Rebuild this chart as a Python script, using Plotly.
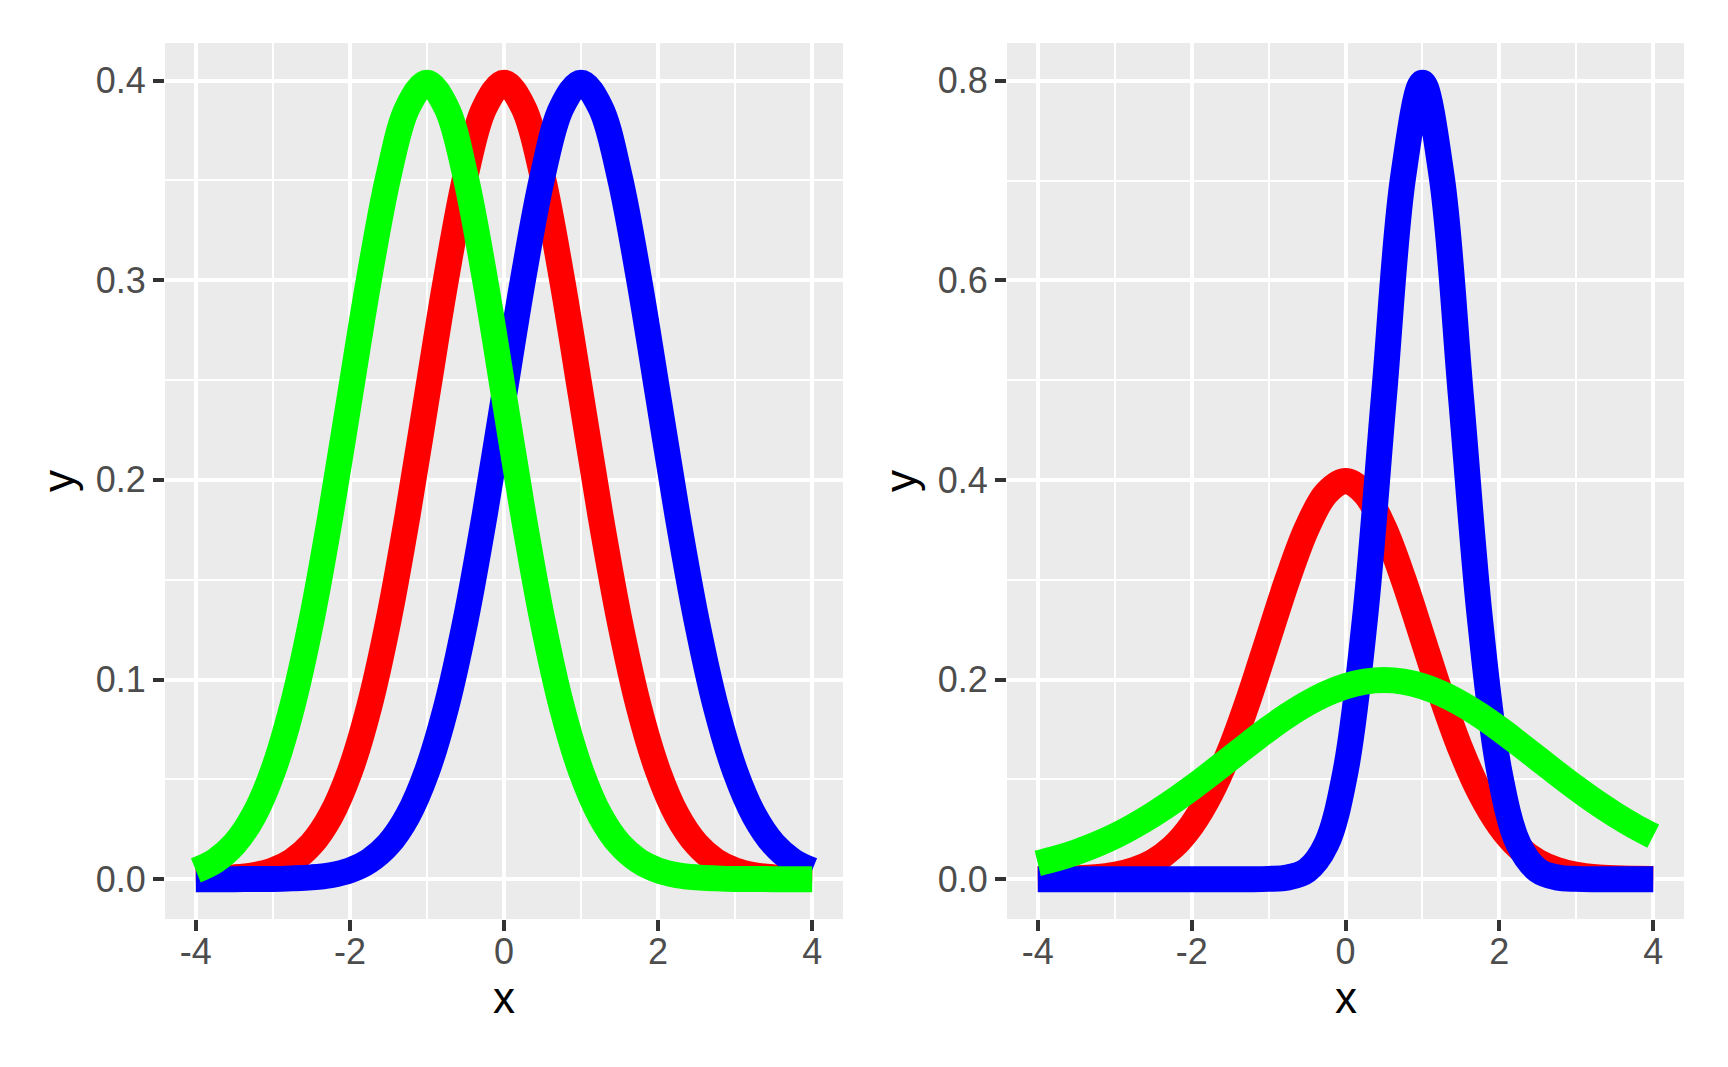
import plotly.graph_objects as go

# ---- data ----
x_vals = [-4.0, -3.75, -3.5, -3.25, -3.0, -2.75, -2.5, -2.25, -2.0, -1.75, -1.5, -1.25, -1.0,
          -0.75, -0.5, -0.25, 0.0, 0.25, 0.5, 0.75, 1.0, 1.25, 1.5, 1.75, 2.0, 2.25, 2.5,
          2.75, 3.0, 3.25, 3.5, 3.75, 4.0]

left_red = [0.0001, 0.0004, 0.0009, 0.0020, 0.0044, 0.0091, 0.0175, 0.0317, 0.0540, 0.0863,
            0.1295, 0.1826, 0.2420, 0.3011, 0.3521, 0.3867, 0.3989, 0.3867, 0.3521, 0.3011,
            0.2420, 0.1826, 0.1295, 0.0863, 0.0540, 0.0317, 0.0175, 0.0091, 0.0044, 0.0020,
            0.0009, 0.0004, 0.0001]
left_blue = [0.0000, 0.0000, 0.0000, 0.0001, 0.0001, 0.0004, 0.0009, 0.0020, 0.0044, 0.0091,
             0.0175, 0.0317, 0.0540, 0.0863, 0.1295, 0.1826, 0.2420, 0.3011, 0.3521, 0.3867,
             0.3989, 0.3867, 0.3521, 0.3011, 0.2420, 0.1826, 0.1295, 0.0863, 0.0540, 0.0317,
             0.0175, 0.0091, 0.0044]
left_green = [0.0044, 0.0091, 0.0175, 0.0317, 0.0540, 0.0863, 0.1295, 0.1826, 0.2420, 0.3011,
              0.3521, 0.3867, 0.3989, 0.3867, 0.3521, 0.3011, 0.2420, 0.1826, 0.1295, 0.0863,
              0.0540, 0.0317, 0.0175, 0.0091, 0.0044, 0.0020, 0.0009, 0.0004, 0.0001, 0.0001,
              0.0000, 0.0000, 0.0000]

right_red = [0.0001, 0.0004, 0.0009, 0.0020, 0.0044, 0.0091, 0.0175, 0.0317, 0.0540, 0.0863,
             0.1295, 0.1826, 0.2420, 0.3011, 0.3521, 0.3867, 0.3989, 0.3867, 0.3521, 0.3011,
             0.2420, 0.1826, 0.1295, 0.0863, 0.0540, 0.0317, 0.0175, 0.0091, 0.0044, 0.0020,
             0.0009, 0.0004, 0.0001]
right_blue = [0.0, 0.0, 0.0, 0.0, 0.0, 0.0, 0.0, 0.0, 0.0, 0.0, 0.0, 0.0000, 0.0003,
              0.0017, 0.0089, 0.0350, 0.1080, 0.2590, 0.4839, 0.7041, 0.7979, 0.7041, 0.4839,
              0.2590, 0.1080, 0.0350, 0.0089, 0.0017, 0.0003, 0.0000, 0.0, 0.0, 0.0]
right_green = [0.0159, 0.0209, 0.0270, 0.0344, 0.0431, 0.0533, 0.0648, 0.0775, 0.0913, 0.1059,
               0.1210, 0.1360, 0.1506, 0.1641, 0.1760, 0.1859, 0.1933, 0.1979, 0.1995, 0.1979,
               0.1933, 0.1859, 0.1760, 0.1641, 0.1506, 0.1360, 0.1210, 0.1059, 0.0913, 0.0775,
               0.0648, 0.0533, 0.0431]

x_ticks = [-4, -2, 0, 2, 4]
x_tick_text = ["-4", "-2", "0", "2", "4"]
x_minor = [-3, -1, 1, 3]
left_y_ticks = [0.0, 0.1, 0.2, 0.3, 0.4]
left_y_minor = [0.05, 0.15, 0.25, 0.35]
right_y_ticks = [0.0, 0.2, 0.4, 0.6, 0.8]
right_y_minor = [0.1, 0.3, 0.5, 0.7]

# ---- figure ----
W, H = 1728, 1067
fig = go.Figure()

LW = 26
for xa, ya, series in [("x", "y", [left_red, left_blue, left_green]),
                       ("x2", "y2", [right_red, right_blue, right_green])]:
    for ys, col in zip(series, ["#FF0000", "#0000FF", "#00FF00"]):
        fig.add_trace(go.Scatter(x=x_vals, y=ys, mode="lines", xaxis=xa, yaxis=ya,
                                 line=dict(color=col, width=LW, shape="spline", smoothing=1.0),
                                 showlegend=False, hoverinfo="skip"))

tick_font = dict(family="Liberation Sans, Arial, sans-serif", size=36, color="#4D4D4D")
title_font = dict(family="Liberation Sans, Arial, sans-serif", size=44, color="#000000")

y_dom = [1 - 919 / H, 1 - 43 / H]

def xaxis(dom, anchor):
    return dict(domain=dom, anchor=anchor, range=[-4.4, 4.4], tickmode="array",
                tickvals=x_ticks, ticktext=x_tick_text, ticks="outside", ticklen=11,
                tickwidth=4, tickcolor="#333333", tickfont=tick_font, showgrid=True,
                gridcolor="#FFFFFF", gridwidth=4, zeroline=False, showline=False,
                ticklabelstandoff=-10,
                minor=dict(tickmode="array", tickvals=x_minor, showgrid=True,
                           gridcolor="#FFFFFF", gridwidth=2, ticks=""))

def yaxis(dom, anchor, rng, ticks, minor):
    return dict(domain=dom, anchor=anchor, range=rng, tickmode="array",
                tickvals=ticks, ticktext=["%.1f" % t for t in ticks], ticks="outside",
                ticklen=11, tickwidth=4, tickcolor="#333333", tickfont=tick_font,
                showgrid=True, gridcolor="#FFFFFF", gridwidth=4, zeroline=False,
                showline=False, ticklabelstandoff=0,
                minor=dict(tickmode="array", tickvals=minor, showgrid=True,
                           gridcolor="#FFFFFF", gridwidth=2, ticks=""))

fig.update_layout(
    width=W, height=H, margin=dict(l=0, r=0, t=0, b=0),
    paper_bgcolor="#FFFFFF", plot_bgcolor="#EBEBEB",
    xaxis=xaxis([165 / W, 843 / W], "y"),
    yaxis=yaxis(y_dom, "x", [-0.01995, 0.4188], left_y_ticks, left_y_minor),
    xaxis2=xaxis([1007 / W, 1684 / W], "y2"),
    yaxis2=yaxis(y_dom, "x2", [-0.0399, 0.8378], right_y_ticks, right_y_minor),
)

# axis titles
for cx in [(165 + 843) / 2, (1007 + 1684) / 2]:
    fig.add_annotation(text="x", xref="paper", yref="paper", x=cx / W, y=1 - 997 / H,
                       showarrow=False, font=title_font, xanchor="center", yanchor="middle")
for cx in [58, 900]:
    fig.add_annotation(text="y", xref="paper", yref="paper", x=cx / W, y=1 - 481 / H,
                       showarrow=False, font=title_font, textangle=-90,
                       xanchor="center", yanchor="middle")

fig.write_html("out.html")
